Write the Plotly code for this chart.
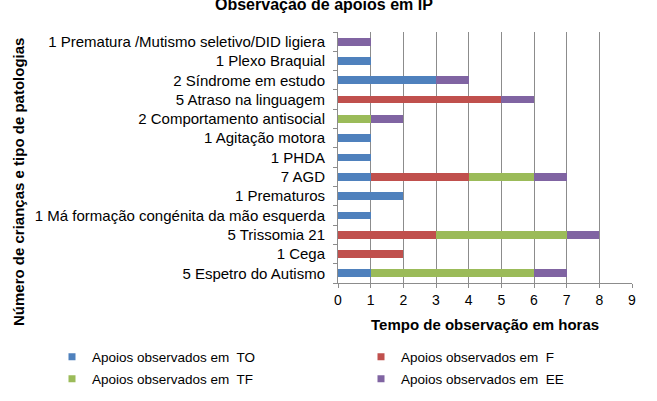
import plotly.graph_objects as go

categories = [
    "5 Espetro do Autismo",
    "1 Cega",
    "5 Trissomia 21",
    "1 Má formação congénita da mão esquerda",
    "1 Prematuros",
    "7 AGD",
    "1 PHDA",
    "1 Agitação motora",
    "2 Comportamento antisocial",
    "5 Atraso na linguagem",
    "2 Síndrome em estudo",
    "1 Plexo Braquial",
    "1 Prematura /Mutismo seletivo/DID ligiera",
]
apoios_TO = [1, 0, 0, 1, 2, 1, 1, 1, 0, 0, 3, 1, 0]
apoios_F = [0, 2, 3, 0, 0, 3, 0, 0, 0, 5, 0, 0, 0]
apoios_TF = [5, 0, 4, 0, 0, 2, 0, 0, 1, 0, 0, 0, 0]
apoios_EE = [1, 0, 1, 0, 0, 1, 0, 0, 1, 1, 1, 0, 1]
x_ticks = list(range(0, 10))

series = [
    ("Apoios observados em  TO", apoios_TO, "#4F81BD", "legend"),
    ("Apoios observados em  F", apoios_F, "#C0504D", "legend2"),
    ("Apoios observados em  TF", apoios_TF, "#9BBB59", "legend3"),
    ("Apoios observados em  EE", apoios_EE, "#8064A2", "legend4"),
]

# plot area in pixels
L, R, T, B = 338, 632, 32, 283
PW, PH = R - L, B - T


def px_x(p):
    return (p - L) / PW


def px_y(p):
    return (B - p) / PH


fig = go.Figure()
for name, vals, color, lg in series:
    fig.add_trace(go.Bar(
        y=categories, x=vals, name=name, orientation="h",
        marker=dict(color=color, line=dict(width=0)),
        width=0.4, showlegend=False,
    ))
# small square legend keys (Excel style)
for name, vals, color, lg in series:
    fig.add_trace(go.Scatter(
        x=[None], y=[None], mode="markers", name=name, legend=lg, showlegend=True,
        marker=dict(symbol="square", size=7, color=color, line=dict(width=0)),
    ))

font_family = "Liberation Sans, Arial, sans-serif"
leg_common = dict(orientation="h", xanchor="left", yanchor="middle",
                  font=dict(size=13.5), itemwidth=30, bgcolor="rgba(0,0,0,0)")
fig.update_layout(
    width=657, height=401,
    barmode="stack", showlegend=True,
    plot_bgcolor="white", paper_bgcolor="white",
    margin=dict(l=L, r=657 - R, t=T, b=401 - B, autoexpand=False),
    font=dict(family=font_family, size=13, color="#000"),
    xaxis=dict(
        range=[0, 9], tickvals=x_ticks, showgrid=True, gridcolor="#8c8c8c", gridwidth=1,
        showline=True, linecolor="#8c8c8c", linewidth=1,
        ticks="outside", ticklen=4, tickcolor="#8c8c8c",
        tickfont=dict(size=14), zeroline=False, automargin=False,
    ),
    yaxis=dict(
        type="category", categoryorder="array", categoryarray=categories,
        range=[-0.5, len(categories) - 0.5],
        showline=True, linecolor="#8c8c8c", linewidth=1,
        ticks="outside", ticklen=4, tickcolor="#8c8c8c", tickson="boundaries",
        tickfont=dict(size=15), ticklabelstandoff=9, showgrid=False, automargin=False,
    ),
    legend=dict(x=px_x(52), y=px_y(357), **leg_common),
    legend2=dict(x=px_x(361), y=px_y(357), **leg_common),
    legend3=dict(x=px_x(52), y=px_y(379), **leg_common),
    legend4=dict(x=px_x(361), y=px_y(379), **leg_common),
    annotations=[
        dict(text="<b>Observação de apoios em IP</b>", xref="paper", yref="paper",
             x=px_x(324), y=px_y(4), xanchor="center", yanchor="middle",
             showarrow=False, font=dict(size=16)),
        dict(text="<b>Tempo de observação em horas</b>", xref="paper", yref="paper",
             x=px_x(485), y=px_y(324), xanchor="center", yanchor="middle",
             showarrow=False, font=dict(size=15)),
        dict(text="<b>Número de crianças e tipo de patologias</b>", xref="paper", yref="paper",
             x=px_x(18), y=px_y(182), xanchor="center", yanchor="middle",
             textangle=-90, showarrow=False, font=dict(size=15)),
    ],
)

fig.write_html("out.html", config={"displayModeBar": False},
               post_script="document.body.style.margin='0';")
